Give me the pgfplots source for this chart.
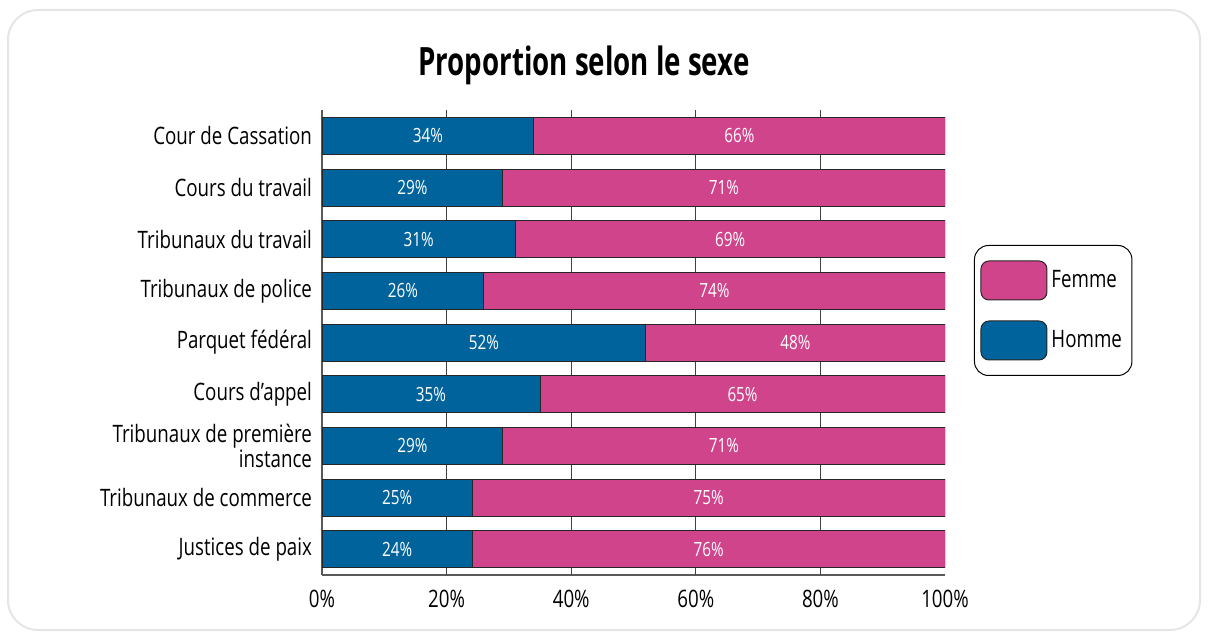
\documentclass[border=0pt]{standalone}
\usepackage{pgfplots}
\pgfplotsset{compat=1.18}
\usepackage{pgfplotstable}
\usepackage{fontspec}
\setmainfont{Open Sans}[FakeStretch=0.78]
\newfontfamily\titlefont{Open Sans}[FakeStretch=0.71]
\definecolor{hblue}{RGB}{0,99,155}
\definecolor{fpink}{RGB}{207,68,139}
\pgfplotstableread{
y h hl f fl
0 24.1 24 75.9 76
1 24.1 25 75.9 75
2 29 29 71 71
3 35 35 65 65
4 52 52 48 48
5 26 26 74 74
6 31 31 69 69
7 29 29 71 71
8 34 34 66 66
}\data
\begin{document}
\begin{tikzpicture}[x=1pt,y=1pt]
\useasboundingbox (0,0) rectangle (604,316);
\draw[black!10, line width=1pt, rounded corners=15pt] (4,1) rectangle (600,311);
\node[font=\titlefont\fontsize{19.5}{22}\selectfont\bfseries] at (292,283.5) {Proportion selon le sexe};
\begin{axis}[
  at={(161pt,28.5pt)}, anchor=south west,
  scale only axis, width=311.5pt, height=232.5pt,
  xbar stacked, bar width=18.5pt,
  xmin=0, xmax=100, ymin=-0.5, ymax=8.5,
  axis x line*=bottom, axis y line*=left,
  axis line style={black!65, line width=1pt},
  xtick={0,20,40,60,80,100},
  xticklabels={0\%,20\%,40\%,60\%,80\%,100\%},
  extra x ticks={20,40,60,80}, extra x tick labels={},
  extra x tick style={grid=major, major grid style={black!75, line width=0.6pt}},
  ytick={0,...,8},
  yticklabels={Justices de paix,Tribunaux de commerce,{Tribunaux de première\\instance},Cours d’appel,Parquet fédéral,Tribunaux de police,Tribunaux du travail,Cours du travail,Cour de Cassation},
  major tick length=0pt,
  tick label style={font=\fontsize{12}{10.5}\selectfont},
  yticklabel style={align=right, xshift=-1.5pt},
  xticklabel style={yshift=-4pt},
  tick style={draw=none},
  reverse legend,
  legend style={at={(1.0465,0.7097)}, anchor=north west, draw=black, line width=0.5pt,
    rounded corners=7pt, inner xsep=3pt, inner ysep=7.5pt, row sep=10pt, column sep=0pt,
    font=\fontsize{12}{14}\selectfont, cells={anchor=west},
    nodes={inner sep=2pt}},
  legend cell align=left,
]
\addplot[fill=hblue, draw=black!85, line width=0.5pt,
  legend image code/.code={\draw[fill=hblue, draw=black!85, line width=0.5pt, rounded corners=4pt] (0pt,-9.75pt) rectangle (33pt,9.75pt);},
  point meta=explicit symbolic,
  nodes near coords={\pgfplotspointmeta\%},
  every node near coord/.append style={anchor=center, text=white, font=\fontsize{9.8}{11}\selectfont}]
  table[x=h, y=y, meta=hl] {\data};
\addlegendentry{Homme}
\addplot[fill=fpink, draw=black!85, line width=0.5pt,
  legend image code/.code={\draw[fill=fpink, draw=black!85, line width=0.5pt, rounded corners=4pt] (0pt,-9.75pt) rectangle (33pt,9.75pt);},
  point meta=explicit symbolic,
  nodes near coords={\pgfplotspointmeta\%},
  every node near coord/.append style={anchor=center, text=white, font=\fontsize{9.8}{11}\selectfont}]
  table[x=f, y=y, meta=fl] {\data};
\addlegendentry{Femme}
\end{axis}
\end{tikzpicture}
\end{document}
